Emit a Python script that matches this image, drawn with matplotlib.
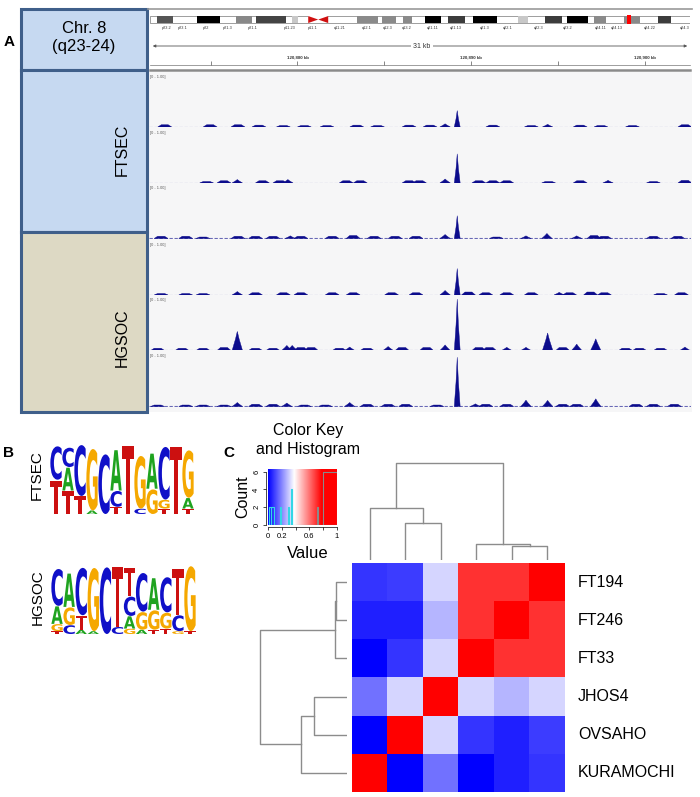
import matplotlib
matplotlib.use("Agg")
import matplotlib.pyplot as plt
from matplotlib.patches import Rectangle, PathPatch, Polygon
from matplotlib.textpath import TextPath
from matplotlib.font_manager import FontProperties
from matplotlib.transforms import Affine2D
from matplotlib.colors import LinearSegmentedColormap

plt.rcParams['font.family'] = ['Liberation Sans', 'DejaVu Sans']

W, H = 700, 797

# ---------------- panel A : IGV tracks ----------------
win_start, win_end = 120871.4, 120902.7          # kb on chr8
ruler_ticks = [120875, 120880, 120885, 120890, 120895, 120900]
ruler_labels = ['', '120,880 kb', '', '120,890 kb', '', '120,900 kb']

# peak positions in kb after 120,870 kb, heights as fraction of track scale [0 - 1.00]
# first entry of every track is the main peak
t1_pos = [19.2, 18.5, 24.42, 2.31, 4.93, 6.54, 7.75, 9.16, 10.37, 11.68, 13.4, 14.6, 16.42,
          17.63, 21.26, 23.48, 26.3, 27.5, 29.32, 32.35]
t1_h = [0.31, 0.06, 0.05, .03, .03, .03, .025, .02, .02, .02, .025, .02, .025, .025, .025, .02,
        .025, .02, .02, .03]
t2_pos = [19.2, 18.5, 6.5, 9.42, 27.91, 4.73, 5.73, 7.95, 8.96, 12.79, 13.6, 16.42, 17.02, 20.45,
          21.26, 22.06, 24.48, 26.3, 30.53, 32.35]
t2_h = [0.55, 0.075, 0.065, 0.065, 0.05, .02, .03, .03, .03, .03, .03, .03, .03, .03, .03, .03,
        .02, .03, .02, .035]
t3_pos = [19.2, 18.5, 24.38, 23.17, 26.1, 9.56, 2.1, 3.52, 4.52, 6.54, 7.55, 8.56, 10.17, 11.98,
          13.19, 14.4, 15.61, 16.82, 21.46, 27.1, 27.7, 30.53, 31.94]
t3_h = [0.43, 0.075, 0.095, 0.05, 0.05, 0.05, .03, .03, .02, .03, .03, .03, .03, .03, .04, .03,
        .03, .03, .02, .04, .03, .03, .03]
t4_pos = [19.2, 18.5, 6.5, 25.09, 2.1, 3.52, 4.52, 7.55, 9.16, 10.17, 11.98, 13.19, 15.41, 16.82,
          19.85, 20.85, 22.06, 23.48, 25.69, 26.9, 27.7, 30.94, 32.15]
t4_h = [0.5, 0.085, 0.065, 0.05, .02, .02, .02, .03, .03, .03, .03, .03, .03, .03, .04, .03, .03,
        .03, .03, .04, .03, .02, .03]
t5_pos = [19.2, 6.5, 24.42, 27.2, 26.1, 18.5, 9.36, 9.67, 12.99, 15.21, 23.17, 22.06, 32.35,
          1.9, 3.31, 4.52, 5.73, 7.55, 8.56, 10.17, 10.77, 12.39, 14.0, 16.02, 17.43, 20.45,
          21.06, 25.29, 28.92, 29.73, 30.94]
t5_h = [0.97, 0.36, 0.33, 0.22, 0.12, 0.105, 0.095, 0.095, 0.065, 0.075, 0.06, 0.06, 0.065,
        .03, .03, .03, .04, .03, .03, .04, .04, .03, .03, .04, .04, .04, .04, .04, .03, .03, .03]
t6_pos = [19.2, 23.17, 24.42, 27.2, 6.5, 12.99, 9.36, 20.25, 1.9, 3.52, 4.52, 5.73, 7.55, 8.56,
          10.37, 11.58, 14.0, 15.21, 16.22, 18.03, 20.85, 22.06, 25.29, 26.1, 29.52, 30.53, 31.74]
t6_h = [0.93, 0.12, 0.115, 0.145, 0.075, 0.075, 0.065, 0.05, .02, .02, .02, .02, .03, .03, .02,
        .02, .03, .03, .03, .02, .03, .03, .03, .03, .03, .03, .03]

# chromosome 8 ideogram (percent of chromosome length)
band_start = [1.3, 8.7, 15.9, 19.6, 26.3, 38.3, 43.0, 46.9, 50.9, 55.2, 59.8, 68.1, 73.1, 77.2,
              82.2, 87.8, 94.1]
band_end = [4.3, 13.0, 18.9, 25.2, 27.4, 42.2, 45.6, 48.5, 53.9, 58.3, 64.3, 70.0, 76.3, 81.1,
            84.4, 90.7, 96.5]
band_color = ['#555555', '#000000', '#888888', '#444444', '#c8c8c8', '#8a8a8a', '#8a8a8a',
              '#8a8a8a', '#000000', '#3c3c3c', '#000000', '#c8c8c8', '#3c3c3c', '#000000',
              '#8a8a8a', '#8a8a8a', '#3c3c3c']
band_names = ['p23.2', 'p23.1', 'p22', 'p21.3', 'p21.1', 'p11.23', 'p11.1', 'q11.21', 'q12.1',
              'q12.3', 'q13.2', 'q21.11', 'q21.13', 'q21.3', 'q22.1', 'q22.3', 'q23.2',
              'q24.11', 'q24.13', 'q24.22', 'q24.3']
band_name_pos = [3, 6.1, 10.4, 14.4, 19.1, 25.9, 30.2, 35.2, 40.2, 44.1, 47.6, 52.4, 56.7,
                 62.0, 66.3, 71.9, 77.4, 83.5, 86.5, 92.6, 99.1]
centromere = (29.3, 33.0)
region_mark = 88.7

# ---------------- panel B : motif logos ----------------
ftsec_letters = ["TC", "TAC", "TC", "AG", "C", "TCA", "T", "CG", "GA", "TGC", "T", "TAG"]
ftsec_heights = [[0.95, 0.95], [0.65, 0.65, 0.55], [0.5, 1.45], [0.1, 1.75], [1.7],
                 [0.2, 0.45, 1.15], [1.95], [0.15, 1.5], [0.7, 1.0], [0.15, 0.25, 1.5],
                 [1.9], [0.15, 0.3, 1.35]]
hgsoc_letters = ["TGAC", "CGA", "ATC", "AG", "C", "CT", "GACT", "AGC", "TGA", "TGC", "GCT", "TG"]
hgsoc_heights = [[0.08, 0.2, 0.5, 1.05], [0.25, 0.5, 0.95], [0.12, 0.4, 1.35], [0.08, 1.8],
                 [1.9], [0.2, 1.7], [0.15, 0.35, 0.55, 0.8], [0.12, 0.5, 1.1],
                 [0.12, 0.55, 0.9], [0.15, 0.45, 1.0], [0.08, 0.45, 1.3], [0.08, 1.85]]
base_colors = {'A': '#1fa31f', 'C': '#1010c8', 'G': '#f5a800', 'T': '#cc1010'}

# ---------------- panel C : heatmap ----------------
row_names = ['FT194', 'FT246', 'FT33', 'JHOS4', 'OVSAHO', 'KURAMOCHI']
col_names = ['KURAMOCHI', 'OVSAHO', 'JHOS4', 'FT33', 'FT246', 'FT194']
corr = [[0.08, 0.09, 0.32, 0.70, 0.70, 1.00],
        [0.05, 0.05, 0.27, 0.70, 1.00, 0.70],
        [0.00, 0.08, 0.32, 1.00, 0.70, 0.70],
        [0.17, 0.32, 1.00, 0.32, 0.27, 0.32],
        [0.00, 1.00, 0.32, 0.08, 0.05, 0.09],
        [1.00, 0.00, 0.17, 0.00, 0.05, 0.08]]
# dendrogram merges (node a, node b, height); new nodes numbered from 6
col_merges = [(4, 5, 14), (3, 6, 16), (1, 2, 37), (0, 8, 52), (9, 7, 97)]
row_merges = [(0, 1, 11), (6, 2, 12), (3, 4, 33), (8, 5, 46), (7, 9, 87)]
hist_left = [0.02, 0.05, 0.17, 0.29, 0.33, 0.71, 0.79]
hist_right = [0.045, 0.08, 0.19, 0.31, 0.35, 0.73, 1.0]
hist_count = [2, 2, 2, 2, 4, 2, 6]

key_cmap = LinearSegmentedColormap.from_list(
    'key', [(0, '#0000ff'), (0.38, '#ffffff'), (0.78, '#ff0000'), (1, '#ff0000')])


def px_axes(fig, x0, y0, x1, y1):
    return fig.add_axes([x0 / W, 1 - y1 / H, (x1 - x0) / W, (y1 - y0) / H])


def draw_letter(ax, ch, x, y, w, h, color):
    tp = TextPath((0, 0), ch, size=1, prop=FontProperties(family='DejaVu Sans', weight='bold'))
    bb = tp.get_extents()
    tr = Affine2D().translate(-bb.x0, -bb.y0).scale(w / bb.width, h / bb.height).translate(x, y)
    ax.add_patch(PathPatch(tr.transform_path(tp), fc=color, ec='none'))


def logo(ax, letters, heights):
    for i, (col, hs) in enumerate(zip(letters, heights)):
        y = 0
        for ch, hh in zip(col, hs):
            draw_letter(ax, ch, i + 0.03, y, 0.94, hh * 0.97, base_colors[ch])
            y += hh
    ax.set_xlim(0, len(letters))
    ax.set_ylim(0, 2.02)
    ax.axis('off')


def dendro(ax, merges, n, vertical):
    pos = {i: (i + 0.5, 0.0) for i in range(n)}
    for k, (a, b, h) in enumerate(merges):
        xa, ha = pos[a]
        xb, hb = pos[b]
        xs = [xa, xa, xb, xb]
        ys = [ha, h, h, hb]
        if vertical:
            ax.plot(xs, ys, color='#8c8c8c', lw=1)
        else:
            ax.plot(ys, xs, color='#8c8c8c', lw=1)
        pos[n + k] = ((xa + xb) / 2, h)


fig = plt.figure(figsize=(7, 7.97), dpi=100)
ax0 = fig.add_axes([0, 0, 1, 1])
ax0.set_xlim(0, W)
ax0.set_ylim(H, 0)
ax0.axis('off')

# left boxes
ax0.add_patch(Rectangle((149, 72), 543, 340, fc='#f6f6f7', ec='none'))
ax0.plot([148, 692], [9, 9], color='#9a9a9a', lw=1.2)
for (y0, y1, fc) in [(9, 70, '#c6d9f1'), (70, 232, '#c6d9f1'), (232, 412, '#ddd9c4')]:
    ax0.add_patch(Rectangle((21, y0), 126, y1 - y0, fc=fc, ec='#3f5f8a', lw=2.2))
ax0.text(84, 28, 'Chr. 8', ha='center', va='center', fontsize=12)
ax0.text(84, 46, '(q23-24)', ha='center', va='center', fontsize=12)
ax0.text(122, 150, 'FTSEC', rotation=90, ha='center', va='center', fontsize=11.5)
ax0.text(122, 338, 'HGSOC', rotation=90, ha='center', va='center', fontsize=11.5)
ax0.text(9, 42, 'A', ha='center', va='center', fontsize=11, fontweight='bold')
ax0.text(9, 453, 'B', ha='center', va='center', fontsize=11, fontweight='bold')
ax0.text(229, 453, 'C', ha='center', va='center', fontsize=11, fontweight='bold')

# 31 kb span
ax0.annotate('', xy=(690, 46), xytext=(150, 46),
             arrowprops=dict(arrowstyle='<|-|>', color='#555555', lw=0.6, mutation_scale=4))
ax0.text(422, 46, '%d kb' % int(win_end - win_start), ha='center', va='center', fontsize=5,
         color='#333333', bbox=dict(fc='white', ec='none', pad=1.5))

# ideogram
axi = px_axes(fig, 150, 13, 690, 30)
axi.set_xlim(0, 100)
axi.set_ylim(0, 1)
axi.axis('off')
axi.add_patch(Rectangle((0, 0.41), 100, 0.41, fc='white', ec='#777777', lw=0.5))
for s, e, c in zip(band_start, band_end, band_color):
    axi.add_patch(Rectangle((s, 0.41), e - s, 0.41, fc=c, ec='none'))
cm = (centromere[0] + centromere[1]) / 2
axi.add_patch(Rectangle((centromere[0], 0.41), centromere[1] - centromere[0], 0.41, fc='white', ec='none'))
axi.add_patch(Polygon([(centromere[0], 0.82), (cm, 0.615), (centromere[0], 0.41)], fc='#d01010', ec='none'))
axi.add_patch(Polygon([(centromere[1], 0.82), (cm, 0.615), (centromere[1], 0.41)], fc='#d01010', ec='none'))
axi.add_patch(Rectangle((region_mark - 0.3, 0.33), 0.6, 0.57, fc='#ff0000', ec='none'))
for name, p in zip(band_names, band_name_pos):
    axi.text(p, 0.12, name, ha='center', va='center', fontsize=2.8, color='#333333')

# ruler
axr = px_axes(fig, 148, 52, 692, 72)
axr.set_xlim(win_start, win_end)
axr.set_ylim(72, 52)
axr.axis('off')
axr.plot([win_start + 0.1, win_end - 0.1], [64.5, 64.5], color='#777777', lw=0.5)
axr.plot([win_start + 0.1, win_end - 0.1], [70, 70], color='#8a8a8a', lw=1.8)
axr.vlines(ruler_ticks, 60.5, 64.5, color='#555555', lw=0.5)
for t, lab in zip(ruler_ticks, ruler_labels):
    axr.text(t, 57, lab, ha='center', va='center', fontsize=3.2, color='#333333', fontweight='bold')

# tracks
track_pos = [t1_pos, t2_pos, t3_pos, t4_pos, t5_pos, t6_pos]
track_h = [t1_h, t2_h, t3_h, t4_h, t5_h, t6_h]
baselines = [127, 183, 238.5, 295, 350.5, 406.5]
navy = '#0c0c8c'
for b, ps, hs in zip(baselines, track_pos, track_h):
    ax = px_axes(fig, 149, b - 53, 691, b)
    ax.set_xlim(win_start, win_end)
    ax.set_ylim(0, 1)
    ax.axis('off')
    ax.plot([win_start, win_end], [0.008, 0.008], color=navy, lw=0.8, alpha=0.6,
            linestyle=(0, (3, 1.5)))
    for k, (p, h) in enumerate(zip(ps, hs)):
        x = 120870 + p
        if k == 0:
            w = 0.17
            pts = [(x - w, 0), (x - 0.4 * w, 0.5 * h), (x, h), (x + 0.4 * w, 0.5 * h), (x + w, 0)]
        elif h > 0.045:
            w = 0.3
            pts = [(x - w, 0), (x - 0.35 * w, 0.6 * h), (x, h), (x + 0.35 * w, 0.6 * h), (x + w, 0)]
        else:
            w = 0.4
            h = h * 1.4
            pts = [(x - w, 0), (x - 0.5 * w, h), (x + 0.5 * w, h), (x + w, 0)]
        ax.add_patch(Polygon(pts, fc=navy, ec=navy, lw=0.3))
    ax.text(0.002, 0.99, '[0 - 1.00]', transform=ax.transAxes, fontsize=2.8, color='#555555',
            ha='left', va='top')

# panel B logos
ax0.text(37, 475, 'FTSEC', rotation=90, ha='center', va='center', fontsize=11)
ax0.text(38, 597, 'HGSOC', rotation=90, ha='center', va='center', fontsize=11)
logo(px_axes(fig, 50, 441, 194, 514), ftsec_letters, ftsec_heights)
logo(px_axes(fig, 51, 561, 196, 634), hgsoc_letters, hgsoc_heights)

# panel C color key
ax0.text(308, 430, 'Color Key', ha='center', va='center', fontsize=11.5)
ax0.text(308, 449, 'and Histogram', ha='center', va='center', fontsize=11.5)
ax0.text(243, 497, 'Count', rotation=90, ha='center', va='center', fontsize=11.5)
ax0.text(308, 553, 'Value', ha='center', va='center', fontsize=12)

axk = px_axes(fig, 268, 469, 337, 525)
grad = [[i / 255 for i in range(256)]]
axk.imshow(grad, cmap=key_cmap, aspect='auto', extent=(0, 1, 0, 6.3), origin='lower')
axk.set_xlim(0, 1)
axk.set_ylim(0, 6.3)
axk.plot([0, 1], [0.03, 0.03], color='#33d6e6', lw=0.8)
for l, r, c in zip(hist_left, hist_right, hist_count):
    col = '#33d6e6' if l < 0.5 else '#8a8a8a'
    axk.plot([l, l, r, r], [0, c, c, 0], color=col, lw=0.8)
for s in ['top', 'right']:
    axk.spines[s].set_visible(False)
axk.spines['bottom'].set_bounds(0, 1)
axk.spines['left'].set_bounds(0, 6)
axk.spines['bottom'].set_position(('outward', 1.5))
axk.spines['left'].set_position(('outward', 1.5))
for s in ['bottom', 'left']:
    axk.spines[s].set_linewidth(0.5)
axk.set_xticks([0, 0.2, 0.4, 0.6, 0.8, 1.0])
axk.set_xticklabels(['0', '0.2', '', '0.6', '', '1'])
axk.set_yticks([0, 2, 4, 6])
axk.set_yticklabels(['0', '2', '4', '6'], rotation=90, va='center')
axk.tick_params(labelsize=5.5, length=2.5, width=0.5, pad=1.5)

# heatmap
axh = px_axes(fig, 352, 563, 565, 792)
axh.imshow(corr, cmap=key_cmap, vmin=0, vmax=1, aspect='auto', interpolation='nearest')
axh.axis('off')
for i, name in enumerate(row_names):
    ax0.text(578, 563 + (i + 0.5) * (229 / 6), name, ha='left', va='center', fontsize=11.5)

axcd = px_axes(fig, 352, 460, 565, 560)
axcd.set_xlim(0, 6)
axcd.set_ylim(0, 100)
axcd.axis('off')
dendro(axcd, col_merges, 6, True)

axrd = px_axes(fig, 250, 563, 347, 792)
axrd.set_xlim(97, 0)
axrd.set_ylim(6, 0)
axrd.axis('off')
dendro(axrd, row_merges, 6, False)

fig.savefig('out.png', dpi=100)
